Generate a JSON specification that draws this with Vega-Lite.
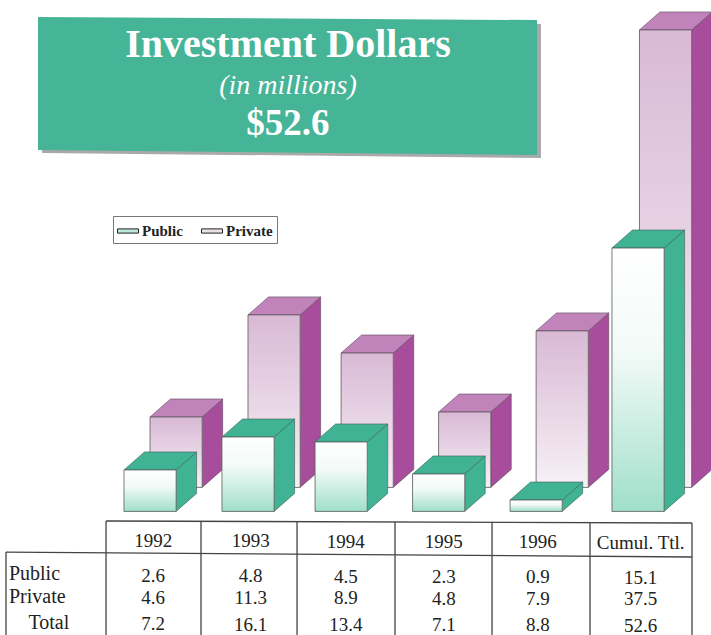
{
"$schema":"https://vega.github.io/schema/vega-lite/v6.json",
"width":711,"height":635,"padding":0,"autosize":"none","background":"white",
"config":{"view":{"stroke":null},"text":{"font":"Liberation Serif"}},
"datasets":{
"bars":[
{"category":"1992","order":0.01,"series":"Public","value":2.69},
{"category":"1993","order":1.015,"series":"Public","value":4.75},
{"category":"1994","order":1.97,"series":"Public","value":4.44},
{"category":"1995","order":2.97,"series":"Public","value":2.44},
{"category":"1996","order":3.97,"series":"Public","value":0.81},
{"category":"Cumul. Ttl.","order":5.015,"series":"Public","value":16.56},
{"category":"1992","order":0.01,"series":"Private","value":6.0},
{"category":"1993","order":1.015,"series":"Private","value":12.38},
{"category":"1994","order":1.97,"series":"Private","value":10.0},
{"category":"1995","order":2.97,"series":"Private","value":6.31},
{"category":"1996","order":3.97,"series":"Private","value":11.38},
{"category":"Cumul. Ttl.","order":5.03,"series":"Private","value":30.19}
],
"table":[
{"column":0,"row":"Year","text":"1992"},{"column":1,"row":"Year","text":"1993"},{"column":1.975,"row":"Year","text":"1994"},{"column":2.98,"row":"Year","text":"1995"},{"column":3.945,"row":"Year","text":"1996"},{"column":5,"row":"Year","text":"Cumul. Ttl."},
{"column":0,"row":"Public","text":"2.6"},{"column":1,"row":"Public","text":"4.8"},{"column":1.975,"row":"Public","text":"4.5"},{"column":2.98,"row":"Public","text":"2.3"},{"column":3.945,"row":"Public","text":"0.9"},{"column":5,"row":"Public","text":"15.1"},
{"column":0,"row":"Private","text":"4.6"},{"column":1,"row":"Private","text":"11.3"},{"column":1.975,"row":"Private","text":"8.9"},{"column":2.98,"row":"Private","text":"4.8"},{"column":3.945,"row":"Private","text":"7.9"},{"column":5,"row":"Private","text":"37.5"},
{"column":0,"row":"Total","text":"7.2"},{"column":1,"row":"Total","text":"16.1"},{"column":1.975,"row":"Total","text":"13.4"},{"column":2.98,"row":"Total","text":"7.1"},{"column":3.945,"row":"Total","text":"8.8"},{"column":5,"row":"Total","text":"52.6"}
],
"grid":[
{"a":-0.174,"b":5.836,"c":-0.5,"d":-0.625},
{"a":-1.2,"b":5.836,"c":-2.44,"d":-2.75},
{"a":-1.2,"b":-1.2,"c":-2.44,"d":-7.625},
{"a":-0.174,"b":-0.174,"c":-0.5,"d":-7.625},
{"a":0.8,"b":0.8,"c":-0.5,"d":-7.625},
{"a":1.785,"b":1.785,"c":-0.5,"d":-7.625},
{"a":2.79,"b":2.79,"c":-0.55,"d":-7.625},
{"a":3.785,"b":3.785,"c":-0.6,"d":-7.625},
{"a":4.79,"b":4.79,"c":-0.6,"d":-7.625},
{"a":5.836,"b":5.836,"c":-0.625,"d":-7.625}
],
"box":[
{"a":-0.872,"top":31.0,"bottom":22.69},
{"a":4.246,"top":30.81,"bottom":22.375}
],
"shadow":[
{"a":-0.83,"top":30.7,"bottom":22.5},
{"a":4.287,"top":30.56,"bottom":22.19}
]
},
"layer":[
{"data":{"name":"shadow"},"mark":{"type":"area","color":"#a9a9a9"},"encoding":{
"x":{"field":"a","type":"quantitative","axis":null,"scale":{"domain":[-1.2615,6.0308],"nice":false,"zero":false}},
"y":{"field":"top","type":"quantitative","axis":null,"scale":{"domain":[-7.625,32.0625],"nice":false,"zero":false}},
"y2":{"field":"bottom"}}},
{"data":{"name":"box"},"mark":{"type":"area","color":"#46b496"},"encoding":{
"x":{"field":"a","type":"quantitative","axis":null,"scale":{"domain":[-1.2615,6.0308],"nice":false,"zero":false}},
"y":{"field":"top","type":"quantitative","axis":null,"scale":{"domain":[-7.625,32.0625],"nice":false,"zero":false}},
"y2":{"field":"bottom"}}},
{"data":{"values":[{"label":"Investment Dollars","a":1.692,"b":28.5}]},
"mark":{"type":"text","color":"white","font":"Liberation Serif","fontWeight":"bold","fontSize":40,"baseline":"alphabetic"},
"encoding":{
"x":{"field":"a","type":"quantitative","axis":null,"scale":{"domain":[-1.2615,6.0308],"nice":false,"zero":false}},
"y":{"field":"b","type":"quantitative","axis":null,"scale":{"domain":[-7.625,32.0625],"nice":false,"zero":false}},
"text":{"field":"label"}}},
{"data":{"values":[{"label":"(in millions)","a":1.692,"b":26.19}]},
"mark":{"type":"text","color":"white","font":"Liberation Serif","fontStyle":"italic","fontSize":28,"baseline":"alphabetic"},
"encoding":{
"x":{"field":"a","type":"quantitative","axis":null,"scale":{"domain":[-1.2615,6.0308],"nice":false,"zero":false}},
"y":{"field":"b","type":"quantitative","axis":null,"scale":{"domain":[-7.625,32.0625],"nice":false,"zero":false}},
"text":{"field":"label"}}},
{"data":{"values":[{"label":"$52.6","a":1.692,"b":23.63}]},
"mark":{"type":"text","color":"white","font":"Liberation Serif","fontWeight":"bold","fontSize":37,"baseline":"alphabetic"},
"encoding":{
"x":{"field":"a","type":"quantitative","axis":null,"scale":{"domain":[-1.2615,6.0308],"nice":false,"zero":false}},
"y":{"field":"b","type":"quantitative","axis":null,"scale":{"domain":[-7.625,32.0625],"nice":false,"zero":false}},
"text":{"field":"label"}}},
{"data":{"name":"bars"},
"transform":[
{"calculate":"datum.order+(datum.series=='Private'?0.267:0)","as":"left"},
{"calculate":"datum.left+0.535","as":"right"},
{"calculate":"datum.series=='Private'?1.6:0.1","as":"low"},
{"calculate":"[datum.left,datum.left+0.21,datum.right,datum.right+0.21]","as":"topX"},
{"calculate":"[datum.value,datum.value+1.125,datum.value+1.125,datum.value+1.125]","as":"topHi"},
{"calculate":"[datum.value,datum.value,datum.value,datum.value+1.125]","as":"topLo"},
{"calculate":"[datum.right,datum.right+0.21]","as":"sideX"},
{"calculate":"[datum.value,datum.value+1.125]","as":"sideHi"},
{"calculate":"[datum.low,datum.low+1.125]","as":"sideLo"}
],
"layer":[
{"transform":[{"filter":"datum.series=='Private'"},{"flatten":["sideX","sideHi","sideLo"]}],
"mark":{"type":"area","color":"#a84d9c","stroke":"#5a4a5a","strokeWidth":0.6},
"encoding":{"detail":{"field":"category"},
"x":{"field":"sideX","type":"quantitative","axis":null,"scale":{"domain":[-1.2615,6.0308],"nice":false,"zero":false}},
"y":{"field":"sideHi","type":"quantitative","axis":null,"scale":{"domain":[-7.625,32.0625],"nice":false,"zero":false}},
"y2":{"field":"sideLo"}}},
{"transform":[{"filter":"datum.series=='Private'"},{"flatten":["topX","topHi","topLo"]}],
"mark":{"type":"area","color":"#c083ba","stroke":"#5a4a5a","strokeWidth":0.6},
"encoding":{"detail":{"field":"category"},
"x":{"field":"topX","type":"quantitative","axis":null,"scale":{"domain":[-1.2615,6.0308],"nice":false,"zero":false}},
"y":{"field":"topHi","type":"quantitative","axis":null,"scale":{"domain":[-7.625,32.0625],"nice":false,"zero":false}},
"y2":{"field":"topLo"}}},
{"transform":[{"filter":"datum.series=='Private'"}],
"mark":{"type":"rect"},
"encoding":{
"x":{"field":"left","type":"quantitative","axis":null,"scale":{"domain":[-1.2615,6.0308],"nice":false,"zero":false}},
"x2":{"field":"right"},
"y":{"field":"value","type":"quantitative","axis":null,"scale":{"domain":[-7.625,32.0625],"nice":false,"zero":false}},
"y2":{"field":"low"},
"fill":{"field":"series","type":"nominal","scale":{"domain":["Public","Private"],"range":["#bde8d9","#e8e2e7"]},
"legend":{"title":null,"orient":"none","legendX":113,"legendY":216,"direction":"horizontal","columns":2,"fillColor":"white","strokeColor":"#777777","padding":4,"labelFont":"Liberation Serif","labelFontWeight":"bold","labelFontSize":15,"labelColor":"#222222","labelOffset":3,"labelExpr":"datum.label=='Private'?'Private\u00a0\u00a0\u00a0\u00a0\u00a0\u00a0\u00a0\u00a0\u00a0\u00a0\u00a0\u00a0':datum.label","symbolType":"M-1,-0.2H1V0.2H-1Z","symbolSize":441,"symbolStrokeColor":"#222222","symbolStrokeWidth":1,"columnPadding":16}}}},
{"transform":[{"filter":"datum.series=='Private'"}],
"mark":{"type":"rect","stroke":"#5a5a5a","strokeWidth":0.8,"fill":{"gradient":"linear","x1":0,"y1":0,"x2":0,"y2":1,"stops":[{"offset":0,"color":"#d9b9d5"},{"offset":1,"color":"#f7f1f6"}]}},
"encoding":{
"x":{"field":"left","type":"quantitative","axis":null,"scale":{"domain":[-1.2615,6.0308],"nice":false,"zero":false}},
"x2":{"field":"right"},
"y":{"field":"value","type":"quantitative","axis":null,"scale":{"domain":[-7.625,32.0625],"nice":false,"zero":false}},
"y2":{"field":"low"}}},
{"transform":[{"filter":"datum.series=='Public'"},{"flatten":["sideX","sideHi","sideLo"]}],
"mark":{"type":"area","color":"#3fb394","stroke":"#3f5f58","strokeWidth":0.6},
"encoding":{"detail":{"field":"category"},
"x":{"field":"sideX","type":"quantitative","axis":null,"scale":{"domain":[-1.2615,6.0308],"nice":false,"zero":false}},
"y":{"field":"sideHi","type":"quantitative","axis":null,"scale":{"domain":[-7.625,32.0625],"nice":false,"zero":false}},
"y2":{"field":"sideLo"}}},
{"transform":[{"filter":"datum.series=='Public'"},{"flatten":["topX","topHi","topLo"]}],
"mark":{"type":"area","color":"#3fb394","stroke":"#3f5f58","strokeWidth":0.6},
"encoding":{"detail":{"field":"category"},
"x":{"field":"topX","type":"quantitative","axis":null,"scale":{"domain":[-1.2615,6.0308],"nice":false,"zero":false}},
"y":{"field":"topHi","type":"quantitative","axis":null,"scale":{"domain":[-7.625,32.0625],"nice":false,"zero":false}},
"y2":{"field":"topLo"}}},
{"transform":[{"filter":"datum.series=='Public'"}],
"mark":{"type":"rect"},
"encoding":{
"x":{"field":"left","type":"quantitative","axis":null,"scale":{"domain":[-1.2615,6.0308],"nice":false,"zero":false}},
"x2":{"field":"right"},
"y":{"field":"value","type":"quantitative","axis":null,"scale":{"domain":[-7.625,32.0625],"nice":false,"zero":false}},
"y2":{"field":"low"},
"fill":{"field":"series","type":"nominal","scale":{"domain":["Public","Private"],"range":["#bde8d9","#e8e2e7"]}}}},
{"transform":[{"filter":"datum.series=='Public'"}],
"mark":{"type":"rect","stroke":"#5a5a5a","strokeWidth":0.8,"fill":{"gradient":"linear","x1":0,"y1":0,"x2":0,"y2":1,"stops":[{"offset":0,"color":"#ffffff"},{"offset":0.4,"color":"#f2faf7"},{"offset":1,"color":"#a0dfca"}]}},
"encoding":{
"x":{"field":"left","type":"quantitative","axis":null,"scale":{"domain":[-1.2615,6.0308],"nice":false,"zero":false}},
"x2":{"field":"right"},
"y":{"field":"value","type":"quantitative","axis":null,"scale":{"domain":[-7.625,32.0625],"nice":false,"zero":false}},
"y2":{"field":"low"}}}
]},
{"data":{"name":"grid"},"mark":{"type":"rule","color":"#444444","strokeWidth":1.3},"encoding":{
"x":{"field":"a","type":"quantitative","axis":null,"scale":{"domain":[-1.2615,6.0308],"nice":false,"zero":false}},
"x2":{"field":"b"},
"y":{"field":"c","type":"quantitative","axis":null,"scale":{"domain":[-7.625,32.0625],"nice":false,"zero":false}},
"y2":{"field":"d"}}},
{"data":{"name":"table"},
"transform":[
{"calculate":"datum.column+0.31","as":"a"},
{"calculate":"{'Year':-1.75,'Public':-3.94,'Private':-5.3,'Total':-6.95}[datum.row]-0.02*datum.column","as":"b"}
],
"mark":{"type":"text","color":"#222222","font":"Liberation Serif","fontSize":19,"align":"center","baseline":"middle"},
"encoding":{
"x":{"field":"a","type":"quantitative","axis":null,"scale":{"domain":[-1.2615,6.0308],"nice":false,"zero":false}},
"y":{"field":"b","type":"quantitative","axis":null,"scale":{"domain":[-7.625,32.0625],"nice":false,"zero":false}},
"text":{"field":"text"}}},
{"data":{"values":[{"label":"Public","a":-1.17,"b":-3.8},{"label":"Private","a":-1.17,"b":-5.25},{"label":"Total","a":-0.97,"b":-6.9}]},
"mark":{"type":"text","color":"#222222","font":"Liberation Serif","fontSize":20,"align":"left","baseline":"middle"},
"encoding":{
"x":{"field":"a","type":"quantitative","axis":null,"scale":{"domain":[-1.2615,6.0308],"nice":false,"zero":false}},
"y":{"field":"b","type":"quantitative","axis":null,"scale":{"domain":[-7.625,32.0625],"nice":false,"zero":false}},
"text":{"field":"label"}}}
]
}
